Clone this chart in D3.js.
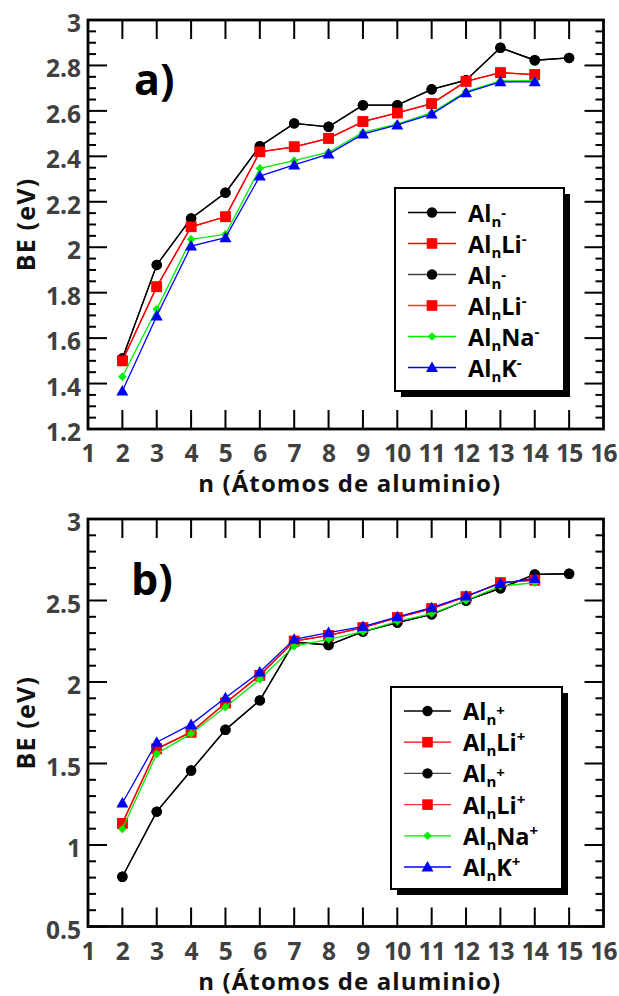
<!DOCTYPE html>
<html>
<head>
<meta charset="utf-8">
<script src="https://cdn.jsdelivr.net/npm/d3@7"></script>
<style>
  html, body { margin: 0; padding: 0; background: #fff; }
  svg { display: block; }
  text { font-family: "Open Sans", "DejaVu Sans", sans-serif; font-weight: 700; }
</style>
</head>
<body>
<svg id="chart" width="619" height="996"></svg>
<script>
// ---------- data ----------
const xTicks = [1, 2, 3, 4, 5, 6, 7, 8, 9, 10, 11, 12, 13, 14, 15, 16];
const yTicksA = [1.2, 1.4, 1.6, 1.8, 2, 2.2, 2.4, 2.6, 2.8, 3];
const yTicksB = [0.5, 1, 1.5, 2, 2.5, 3];

// panel a) anions
const nAlAnion = [2, 3, 4, 5, 6, 7, 8, 9, 10, 11, 12, 13, 14, 15];
const beAlAnion = [1.51, 1.922, 2.127, 2.24, 2.445, 2.545, 2.53, 2.625, 2.625, 2.695, 2.735, 2.878, 2.823, 2.833];
const nDopedAnion = [2, 3, 4, 5, 6, 7, 8, 9, 10, 11, 12, 13, 14];
const beAlLiAnion = [1.50, 1.826, 2.09, 2.134, 2.42, 2.442, 2.479, 2.553, 2.591, 2.632, 2.73, 2.768, 2.76];
const beAlNaAnion = [1.43, 1.727, 2.035, 2.057, 2.347, 2.381, 2.418, 2.505, 2.542, 2.592, 2.685, 2.732, 2.733];
const beAlKAnion = [1.367, 1.697, 2.005, 2.042, 2.313, 2.362, 2.41, 2.498, 2.538, 2.586, 2.68, 2.728, 2.728];

// panel b) cations
const nAlCation = [2, 3, 4, 5, 6, 7, 8, 9, 10, 11, 12, 13, 14, 15];
const beAlCation = [0.805, 1.205, 1.457, 1.707, 1.887, 2.245, 2.227, 2.309, 2.364, 2.415, 2.50, 2.575, 2.66, 2.664];
const nDopedCation = [2, 3, 4, 5, 6, 7, 8, 9, 10, 11, 12, 13, 14];
const beAlLiCation = [1.133, 1.59, 1.692, 1.871, 2.041, 2.251, 2.286, 2.333, 2.395, 2.45, 2.523, 2.609, 2.625];
const beAlNaCation = [1.098, 1.56, 1.683, 1.846, 2.017, 2.22, 2.262, 2.309, 2.372, 2.42, 2.50, 2.589, 2.609];
const beAlKCation = [1.258, 1.631, 1.74, 1.904, 2.061, 2.262, 2.303, 2.34, 2.40, 2.456, 2.527, 2.605, 2.635];

// legend labels: [base, dopant, charge]
const legendA = [["Al", "", "-"], ["Al", "Li", "-"], ["Al", "", "-"], ["Al", "Li", "-"], ["Al", "Na", "-"], ["Al", "K", "-"]];
const legendB = [["Al", "", "+"], ["Al", "Li", "+"], ["Al", "", "+"], ["Al", "Li", "+"], ["Al", "Na", "+"], ["Al", "K", "+"]];

const xTitle = "n (Átomos de aluminio)";
const yTitle = "BE (eV)";

// ---------- styles ----------
const seriesStyle = [
  { color: "#000", marker: "circle", legendLine: "#000" },
  { color: "#ff0000", marker: "square", legendLine: "#ff0000" },
  { color: "#000", marker: "circle", legendLine: "#444" },
  { color: "#ff0000", marker: "square", legendLine: "#ff3030" },
  { color: "#00ee00", marker: "diamond", legendLine: "#00ee00" },
  { color: "#0000ff", marker: "triangle", legendLine: "#0000ff" }
];

const svg = d3.select("#chart");

function drawMarker(g, type, x, y, color) {
  if (type === "circle") {
    g.append("circle").attr("cx", x).attr("cy", y).attr("r", 5.2).attr("fill", color);
  } else if (type === "square") {
    g.append("rect").attr("x", x - 5.3).attr("y", y - 5.3).attr("width", 10.6).attr("height", 10.6).attr("fill", color);
  } else if (type === "diamond") {
    const s = 4.3;
    g.append("path").attr("d", `M${x},${y - s}L${x + s},${y}L${x},${y + s}L${x - s},${y}Z`).attr("fill", color);
  } else if (type === "triangle") {
    const s = 6;
    g.append("path").attr("d", `M${x},${y - s}L${x + s},${y + s * 0.75}L${x - s},${y + s * 0.75}Z`).attr("fill", color);
  }
}

function drawPanel(cfg) {
  const { left, right, top, bottom, yDomain, yMajor, yMinorStep, series, legend, legendBox, label, labelPos } = cfg;
  const g = svg.append("g");
  const x = d3.scaleLinear().domain([1, 16]).range([left, right]);
  const y = d3.scaleLinear().domain(yDomain).range([bottom, top]);

  // minor y ticks
  const yMinor = d3.range(yDomain[0], yDomain[1] + 1e-9, yMinorStep).filter(v => !yMajor.some(m => Math.abs(m - v) < 1e-6));
  const majLen = 19, minLen = 8;
  const tickG = g.append("g").attr("stroke", "#000").attr("stroke-width", 2);
  yMajor.forEach(v => {
    tickG.append("line").attr("x1", left).attr("x2", left + majLen).attr("y1", y(v)).attr("y2", y(v));
    tickG.append("line").attr("x1", right).attr("x2", right - majLen).attr("y1", y(v)).attr("y2", y(v));
  });
  yMinor.forEach(v => {
    tickG.append("line").attr("x1", left).attr("x2", left + minLen).attr("y1", y(v)).attr("y2", y(v));
    tickG.append("line").attr("x1", right).attr("x2", right - minLen).attr("y1", y(v)).attr("y2", y(v));
  });
  xTicks.slice(1, -1).forEach(v => {
    tickG.append("line").attr("x1", x(v)).attr("x2", x(v)).attr("y1", bottom).attr("y2", bottom - majLen);
    tickG.append("line").attr("x1", x(v)).attr("x2", x(v)).attr("y1", top).attr("y2", top + majLen);
  });

  // tick labels
  yMajor.forEach(v => {
    g.append("text").attr("x", left - 7).attr("y", y(v) + 12).attr("text-anchor", "end")
      .attr("font-size", 24.5).attr("fill", "#404040").text(v);
  });
  xTicks.forEach(v => {
    g.append("text").attr("x", x(v)).attr("y", bottom + 33).attr("text-anchor", "middle")
      .attr("font-size", 24.5).attr("fill", "#404040").attr("letter-spacing", -0.8).text(v);
  });

  // titles
  g.append("text").attr("x", (left + right) / 2 + 4).attr("y", bottom + 63).attr("text-anchor", "middle")
    .attr("font-size", 24).attr("letter-spacing", 1.1).attr("fill", "#111").text(xTitle);
  g.append("text").attr("transform", `translate(${left - 53},${(top + bottom) / 2}) rotate(-90)`)
    .attr("text-anchor", "middle").attr("font-size", 25).attr("letter-spacing", 1.2).attr("fill", "#111").text(yTitle);

  // panel label
  g.append("text").attr("x", labelPos[0]).attr("y", labelPos[1]).attr("font-size", 43).attr("fill", "#000").text(label);

  // series
  const line = d3.line().x(d => x(d[0])).y(d => y(d[1]));
  series.forEach((s, i) => {
    const st = seriesStyle[i];
    const pts = s.n.map((n, j) => [n, s.be[j]]);
    g.append("path").attr("d", line(pts)).attr("fill", "none").attr("stroke", st.color).attr("stroke-width", 1.3);
    const mg = g.append("g");
    pts.forEach(p => drawMarker(mg, st.marker, x(p[0]), y(p[1]), st.color));
  });

  // frame
  g.append("rect").attr("x", left).attr("y", top).attr("width", right - left).attr("height", bottom - top)
    .attr("fill", "none").attr("stroke", "#000").attr("stroke-width", 2.8);

  // legend
  const lb = legendBox;
  g.append("rect").attr("x", lb.x + 6).attr("y", lb.y + 6).attr("width", lb.w).attr("height", lb.h).attr("fill", "#000");
  g.append("rect").attr("x", lb.x).attr("y", lb.y).attr("width", lb.w).attr("height", lb.h)
    .attr("fill", "#fff").attr("stroke", "#000").attr("stroke-width", 2);
  legend.forEach((lab, i) => {
    const st = seriesStyle[i];
    const ry = lb.y + lb.row0 + i * lb.step;
    g.append("line").attr("x1", lb.x + lb.lineX0).attr("x2", lb.x + lb.lineX1).attr("y1", ry).attr("y2", ry)
      .attr("stroke", st.legendLine).attr("stroke-width", 1.3);
    drawMarker(g, st.marker, lb.x + (lb.lineX0 + lb.lineX1) / 2, ry, st.color);
    const t = g.append("text").attr("x", lb.x + lb.textX).attr("y", ry + 9).attr("font-size", 23.5).attr("fill", "#000");
    t.append("tspan").text(lab[0]);
    t.append("tspan").attr("font-size", 15).attr("dy", 5).text("n");
    t.append("tspan").attr("dy", -5).text(lab[1]);
    t.append("tspan").attr("font-size", 15).attr("dy", -9).text(lab[2]);
  });
}

drawPanel({
  left: 88, right: 603.5, top: 20, bottom: 429,
  yDomain: [1.2, 3], yMajor: yTicksA, yMinorStep: 0.05,
  series: [
    { n: nAlAnion, be: beAlAnion },
    { n: nDopedAnion, be: beAlLiAnion },
    { n: nAlAnion, be: beAlAnion },
    { n: nDopedAnion, be: beAlLiAnion },
    { n: nDopedAnion, be: beAlNaAnion },
    { n: nDopedAnion, be: beAlKAnion }
  ],
  legend: legendA,
  legendBox: { x: 395, y: 188, w: 169, h: 203, row0: 24.5, step: 31, lineX0: 13, lineX1: 61, textX: 73 },
  label: "a)", labelPos: [134, 95]
});

drawPanel({
  left: 88, right: 603.5, top: 519, bottom: 926.5,
  yDomain: [0.5, 3], yMajor: yTicksB, yMinorStep: 0.1,
  series: [
    { n: nAlCation, be: beAlCation },
    { n: nDopedCation, be: beAlLiCation },
    { n: nAlCation, be: beAlCation },
    { n: nDopedCation, be: beAlLiCation },
    { n: nDopedCation, be: beAlNaCation },
    { n: nDopedCation, be: beAlKCation }
  ],
  legend: legendB,
  legendBox: { x: 391, y: 687, w: 171, h: 202, row0: 24, step: 31.2, lineX0: 13, lineX1: 60, textX: 72 },
  label: "b)", labelPos: [131, 595]
});
</script>
</body>
</html>
